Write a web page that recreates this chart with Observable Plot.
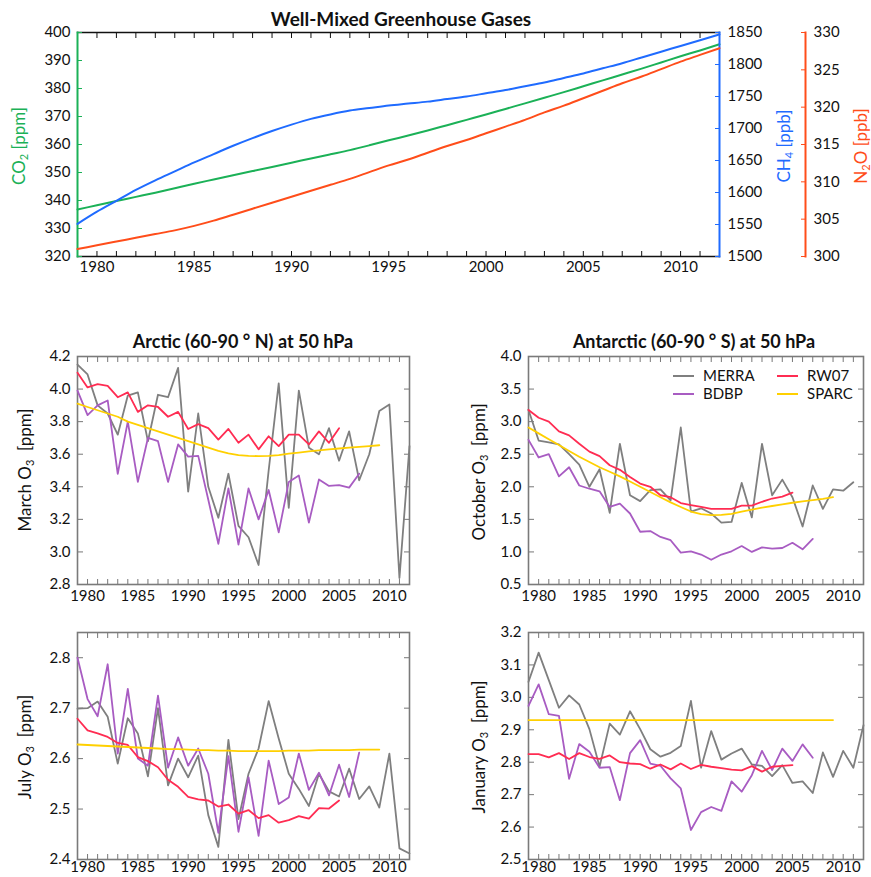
<!DOCTYPE html>
<html><head><meta charset="utf-8">
<script src="https://cdn.jsdelivr.net/npm/d3@7"></script>
<script src="https://cdn.jsdelivr.net/npm/@observablehq/plot@0.6"></script>
<style>
body{margin:0;background:#fff;}
#root{position:relative;width:871px;height:877px;overflow:hidden;font-family:Lato,"Noto Sans",sans-serif;color:#111;}
#root svg{position:absolute;}
.lbl{position:absolute;white-space:nowrap;transform:translate(-50%,-50%) rotate(-90deg);font-size:17px;}
.lbl sub{font-size:11px;vertical-align:-3px;line-height:0;}
.ttl{position:absolute;white-space:nowrap;transform:translate(-50%,-50%);font-weight:bold;}
.leg{position:absolute;font-size:15px;white-space:nowrap;}
.leg i{position:absolute;height:2px;width:21px;}
</style>
</head><body>
<div id="root"></div>
<script>
// ---------- DATA ----------
const years = [1979,1980,1981,1982,1983,1984,1985,1986,1987,1988,1989,1990,1991,1992,1993,1994,1995,1996,1997,1998,1999,2000,2001,2002,2003,2004,2005,2006,2007,2008,2009,2010,2011,2012];
const labelYears = [1980,1985,1990,1995,2000,2005,2010];

// Well-mixed greenhouse gases
const co2 = [336.8,338.3,339.8,341.3,342.8,344.4,346.0,347.5,349.0,350.5,352.0,353.5,355.0,356.5,358.0,359.7,361.5,363.2,365.0,366.9,368.8,370.7,372.7,374.7,376.7,378.7,380.8,382.9,385.0,387.1,389.3,391.5,393.6,395.8];
const ch4 = [1551,1570,1587,1604,1619,1633,1647,1660,1673,1685,1696,1706,1715,1722,1728,1732,1736,1739,1742,1746,1750,1755,1760,1766,1772,1779,1786,1794,1802,1811,1820,1829,1838,1847];
const n2o = [301.0,301.5,302.0,302.5,303.0,303.5,304.1,304.8,305.6,306.4,307.2,308.0,308.8,309.6,310.4,311.3,312.2,313.0,313.9,314.8,315.6,316.5,317.4,318.3,319.3,320.2,321.2,322.2,323.2,324.1,325.1,326.1,327.0,327.9];
const co2Ticks = [320,330,340,350,360,370,380,390,400];
const ch4Ticks = [1500,1550,1600,1650,1700,1750,1800,1850];
const n2oTicks = [300,305,310,315,320,325,330];

// Arctic March
const merraMar = [4.15,4.09,3.90,3.85,3.72,3.96,3.98,3.68,3.965,3.95,4.13,3.37,3.85,3.40,3.21,3.48,3.16,3.09,2.92,3.50,4.035,3.27,3.99,3.64,3.60,3.76,3.56,3.74,3.44,3.60,3.865,3.905,2.84,3.65];
const bdbpMar = [3.99,3.84,3.90,3.93,3.48,3.80,3.43,3.70,3.68,3.43,3.66,3.585,3.59,3.32,3.05,3.39,3.045,3.39,3.20,3.38,3.12,3.43,3.47,3.18,3.445,3.405,3.41,3.395,3.48];
const rwMar = [4.10,4.01,4.03,4.02,3.95,3.98,3.86,3.90,3.89,3.83,3.86,3.755,3.785,3.76,3.69,3.755,3.67,3.72,3.63,3.71,3.65,3.72,3.72,3.66,3.74,3.67,3.76];
const sparcMar = [3.91,3.89,3.87,3.85,3.83,3.80,3.78,3.76,3.74,3.72,3.70,3.68,3.66,3.64,3.62,3.605,3.595,3.59,3.588,3.59,3.595,3.603,3.61,3.617,3.623,3.63,3.635,3.64,3.645,3.65,3.655];
const marTicks = [2.8,3.0,3.2,3.4,3.6,3.8,4.0,4.2];

// Antarctic October
const merraOct = [3.18,2.71,2.68,2.65,2.50,2.34,2.00,2.27,1.60,2.66,1.87,1.78,1.95,1.96,1.79,2.91,1.62,1.67,1.59,1.45,1.46,2.06,1.53,2.66,1.87,2.11,1.84,1.39,2.02,1.66,1.96,1.94,2.07];
const bdbpOct = [2.72,2.45,2.50,2.16,2.30,2.02,1.97,1.93,1.69,1.74,1.59,1.31,1.32,1.23,1.18,0.99,1.01,0.96,0.88,0.96,1.01,1.09,1.00,1.07,1.05,1.06,1.14,1.04,1.20];
const rwOct = [3.18,3.06,3.00,2.85,2.79,2.66,2.54,2.47,2.33,2.26,2.15,2.05,2.00,1.87,1.84,1.75,1.72,1.69,1.66,1.66,1.66,1.71,1.71,1.77,1.82,1.85,1.91];
const sparcOct = [2.91,2.82,2.73,2.64,2.55,2.46,2.38,2.30,2.23,2.16,2.08,2.00,1.92,1.84,1.76,1.69,1.62,1.58,1.565,1.57,1.585,1.62,1.65,1.68,1.705,1.73,1.755,1.775,1.795,1.815,1.84];
const octTicks = [0.5,1.0,1.5,2.0,2.5,3.0,3.5,4.0];

// Arctic July
const merraJul = [2.699,2.70,2.713,2.683,2.59,2.68,2.65,2.565,2.70,2.547,2.60,2.563,2.606,2.488,2.425,2.637,2.48,2.57,2.62,2.714,2.64,2.57,2.54,2.506,2.57,2.535,2.525,2.58,2.52,2.545,2.503,2.61,2.422,2.412];
const bdbpJul = [2.80,2.718,2.684,2.787,2.61,2.738,2.60,2.586,2.725,2.582,2.642,2.586,2.62,2.57,2.453,2.605,2.455,2.563,2.447,2.596,2.51,2.523,2.61,2.538,2.572,2.527,2.588,2.524,2.612];
const rwJul = [2.679,2.656,2.65,2.643,2.631,2.627,2.603,2.595,2.583,2.558,2.544,2.524,2.519,2.517,2.505,2.509,2.491,2.498,2.482,2.488,2.473,2.478,2.486,2.481,2.502,2.501,2.517];
const sparcJul = [2.628,2.627,2.626,2.625,2.624,2.623,2.622,2.621,2.620,2.619,2.619,2.618,2.617,2.617,2.616,2.616,2.615,2.615,2.615,2.615,2.615,2.616,2.616,2.616,2.617,2.617,2.617,2.617,2.618,2.618,2.618];
const julTicks = [2.4,2.5,2.6,2.7,2.8];

// Antarctic January
const merraJan = [3.048,3.138,3.053,2.968,3.006,2.978,2.902,2.786,2.919,2.885,2.957,2.902,2.84,2.817,2.829,2.85,2.989,2.783,2.896,2.808,2.827,2.842,2.793,2.789,2.757,2.791,2.736,2.741,2.705,2.83,2.755,2.835,2.783,2.914];
const bdbpJan = [2.974,3.04,2.948,2.943,2.749,2.856,2.832,2.783,2.785,2.683,2.828,2.868,2.796,2.789,2.75,2.719,2.591,2.646,2.662,2.65,2.741,2.709,2.76,2.835,2.776,2.842,2.804,2.855,2.814];
const rwJan = [2.825,2.825,2.815,2.828,2.81,2.828,2.816,2.81,2.821,2.80,2.796,2.794,2.78,2.793,2.778,2.796,2.779,2.792,2.786,2.782,2.777,2.775,2.788,2.771,2.786,2.789,2.791];
const sparcJan = [2.93,2.93,2.93,2.93,2.93,2.93,2.93,2.93,2.93,2.93,2.93,2.93,2.93,2.93,2.93,2.93,2.93,2.93,2.93,2.93,2.93,2.93,2.93,2.93,2.93,2.93,2.93,2.93,2.93,2.93,2.93];
const janTicks = [2.5,2.6,2.7,2.8,2.9,3.0,3.1,3.2];

const seriesNames = ["MERRA","BDBP","RW07","SPARC"];
const seriesColors = ["#7f7f7f","#a85cc2","#ff2c52","#ffd000"];

// ---------- HELPERS ----------
const rows = vals => vals.map((v, i) => ({year: years[i], value: v}));
const root = document.getElementById("root");
const FONT = "Lato, 'Noto Sans', sans-serif";

function place(svg, left, top) {
  svg.style.left = left + "px";
  svg.style.top = top + "px";
  svg.style.background = "transparent";
  svg.style.maxWidth = "none";
  root.appendChild(svg);
}

// ---------- TOP CHART ----------
const TW = 871, TH = 280;
const green = "#1bb157", blue = "#1f6bff", orange = "#ff4d1a";
const topCommon = {width: TW, height: TH, marginTop: 32, marginBottom: 24, marginLeft: 77,
  style: {fontFamily: FONT, fontSize: "15px", color: "#111", background: "transparent"}};

const co2Plot = Plot.plot({
  ...topCommon, marginRight: 152,
  x: {domain: [1979, 2012], label: null},
  y: {domain: [320, 400], label: null},
  marks: [
    Plot.frame({anchor: "top", stroke: "#111", strokeWidth: 1.3}),
    Plot.frame({anchor: "bottom", stroke: "#111", strokeWidth: 1.3}),
    Plot.axisX({anchor: "bottom", ticks: years, tickSize: -5, tickFormat: () => "", stroke: "#111", label: null}),
    Plot.axisX({anchor: "top", ticks: years, tickSize: -5, tickFormat: () => "", stroke: "#111", label: null}),
    Plot.axisX({anchor: "bottom", ticks: labelYears, tickSize: 0, tickPadding: 5, tickFormat: d => String(d), label: null}),
    Plot.axisY({anchor: "left", ticks: co2Ticks, tickSize: -5, tickPadding: 12, tickFormat: d => String(d), stroke: green, fill: "#111", label: null}),
    Plot.frame({anchor: "left", stroke: green, strokeWidth: 2}),
    Plot.lineY(rows(co2), {x: "year", y: "value", stroke: green, strokeWidth: 2, curve: "monotone-x"})
  ]
});
place(co2Plot, 0, 0);

const ch4Plot = Plot.plot({
  ...topCommon, marginRight: 152,
  x: {domain: [1979, 2012], axis: null, label: null},
  y: {domain: [1500, 1850], label: null},
  marks: [
    Plot.axisY({anchor: "right", ticks: ch4Ticks, tickSize: -5, tickPadding: 13, tickFormat: d => String(d), stroke: blue, fill: "#111", label: null}),
    Plot.frame({anchor: "right", stroke: blue, strokeWidth: 2}),
    Plot.lineY(rows(ch4), {x: "year", y: "value", stroke: blue, strokeWidth: 2, curve: "monotone-x"})
  ]
});
place(ch4Plot, 0, 0);

const n2oPlot = Plot.plot({
  ...topCommon, marginRight: 66,
  x: {domain: [1979, 2012], range: [77, 719], axis: null, label: null},
  y: {domain: [300, 330], label: null},
  marks: [
    Plot.axisY({anchor: "right", ticks: n2oTicks, tickSize: -5, tickPadding: 13, tickFormat: d => String(d), stroke: orange, fill: "#111", label: null}),
    Plot.frame({anchor: "right", stroke: orange, strokeWidth: 2}),
    Plot.lineY(rows(n2o), {x: "year", y: "value", stroke: orange, strokeWidth: 2, curve: "monotone-x"})
  ]
});
place(n2oPlot, 0, 0);

// ---------- PANELS ----------
function panel({left, top, width, height, marginLeft, marginRight, marginTop, marginBottom, domain, ticks, data, pad}) {
  const marks = [
    Plot.axisX({anchor: "bottom", ticks: years, tickSize: -5, tickFormat: () => "", stroke: "#777", label: null}),
    Plot.axisX({anchor: "top", ticks: years, tickSize: -5, tickFormat: () => "", stroke: "#777", label: null}),
    Plot.axisX({anchor: "bottom", ticks: labelYears, tickSize: 0, tickPadding: pad, tickFormat: d => String(d), label: null}),
    Plot.axisY({anchor: "left", ticks, tickSize: -6, tickPadding: 13, tickFormat: d => d.toFixed(1), stroke: "#777", fill: "#111", label: null}),
    Plot.axisY({anchor: "right", ticks, tickSize: -6, tickFormat: () => "", stroke: "#777", label: null}),
    Plot.frame({stroke: "#7a7a7a", strokeWidth: 1.6})
  ];
  data.forEach((vals, i) => {
    marks.push(Plot.lineY(rows(vals), {x: "year", y: "value", stroke: seriesColors[i], strokeWidth: 1.8}));
  });
  const svg = Plot.plot({
    width, height, marginLeft, marginRight, marginTop, marginBottom,
    style: {fontFamily: FONT, fontSize: "15px", color: "#111", background: "transparent"},
    x: {domain: [1979, 2012], label: null},
    y: {domain, label: null},
    marks
  });
  place(svg, left, top);
}

// Arctic March
panel({left: 0, top: 330, width: 435, height: 280, marginLeft: 77, marginRight: 26, marginTop: 26, marginBottom: 26,
  domain: [2.8, 4.2], ticks: marTicks, data: [merraMar, bdbpMar, rwMar, sparcMar], pad: 6});
// Antarctic October
panel({left: 440, top: 330, width: 431, height: 280, marginLeft: 88, marginRight: 8, marginTop: 26, marginBottom: 26,
  domain: [0.5, 4.0], ticks: octTicks, data: [merraOct, bdbpOct, rwOct, sparcOct], pad: 6});
// Arctic July
panel({left: 0, top: 606, width: 435, height: 271, marginLeft: 77, marginRight: 26, marginTop: 26, marginBottom: 18,
  domain: [2.4, 2.85], ticks: julTicks, data: [merraJul, bdbpJul, rwJul, sparcJul], pad: 2});
// Antarctic January
panel({left: 440, top: 606, width: 431, height: 271, marginLeft: 88, marginRight: 8, marginTop: 26, marginBottom: 18,
  domain: [2.5, 3.2], ticks: janTicks, data: [merraJan, bdbpJan, rwJan, sparcJan], pad: 2});

// ---------- TEXT ----------
function addHTML(cls, x, y, html, extra = "") {
  const d = document.createElement("div");
  d.className = cls;
  d.style.cssText = `left:${x}px;top:${y}px;` + extra;
  d.innerHTML = html;
  root.appendChild(d);
}
addHTML("ttl", 401, 18, "Well-Mixed Greenhouse Gases", "font-size:19px;");
addHTML("ttl", 243, 341, "Arctic (60-90 ° N) at 50 hPa", "font-size:18px;");
addHTML("ttl", 694, 341, "Antarctic (60-90 ° S) at 50 hPa", "font-size:18px;");

addHTML("lbl", 18, 146, "CO<sub>2</sub> [ppm]", `color:${green};`);
addHTML("lbl", 783, 146, "CH<sub>4</sub> [ppb]", `color:${blue};`);
addHTML("lbl", 860, 146, "N<sub>2</sub>O [ppb]", `color:${orange};`);

addHTML("lbl", 24, 470, "March O<sub>3</sub>&nbsp; [ppm]");
addHTML("lbl", 478, 472, "October O<sub>3</sub>&nbsp; [ppm]");
addHTML("lbl", 24, 747, "July O<sub>3</sub>&nbsp; [ppm]");
addHTML("lbl", 478, 747, "January O<sub>3</sub>&nbsp; [ppm]");

// Legend
const legPos = [[673, 376], [673, 394], [777, 376], [777, 394]];
seriesNames.forEach((name, i) => {
  const [x, y] = legPos[i];
  addHTML("leg", x, y - 10, `<i style="left:0;top:9px;background:${seriesColors[i]}"></i><span style="margin-left:30px">${name}</span>`);
});
</script>
</body></html>
